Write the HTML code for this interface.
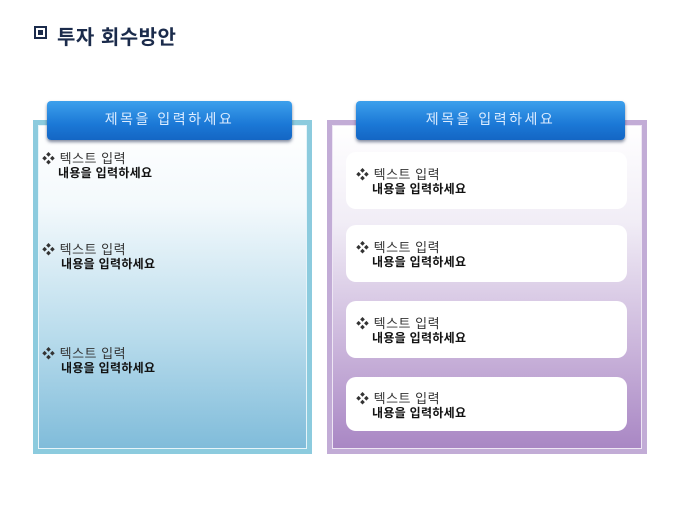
<!DOCTYPE html>
<html><head><meta charset="utf-8"><style>
*{margin:0;padding:0;box-sizing:border-box}
body{width:680px;height:510px;background:#fff;position:relative;overflow:hidden;font-family:"Liberation Sans","Noto Sans CJK KR",sans-serif}
.abs{position:absolute}
.title{left:57px;top:21px;font-size:20px;font-weight:bold;color:#1b2b4b;letter-spacing:0.5px}
.sq{left:34px;top:26px;width:13px;height:13px;border:2px solid #1b2b4b;background:#fff}
.sq::after{content:"";position:absolute;left:2px;top:2px;width:5px;height:5px;background:#1b2b4b}
.lp{left:33px;top:120px;width:279px;height:334px;background:#8ccbde;padding:5px}
.lp .in{width:100%;height:100%;border:1px solid #e6f4f9;background:linear-gradient(#fff 0%,#f3f9fc 25%,#b9dcec 65%,#80bcda 100%)}
.rp{left:327px;top:120px;width:320px;height:334px;background:#c2acd6;padding:5px}
.rp .in{width:100%;height:100%;border:1px solid #eee6f4;background:linear-gradient(#fff 0%,#f1edf6 30%,#c9b3da 70%,#a987c4 100%)}
.hd{height:39px;border-radius:4px;background:linear-gradient(#3da0ec,#1b78d6 60%,#1466c4);box-shadow:0 2px 3px rgba(0,20,60,.5);color:#dcecff;font-size:14px;text-align:center;line-height:37px;letter-spacing:2.5px}
.card{left:346px;width:281px;background:#fff;border-radius:10px}
.t1{font-size:13px;color:#333;letter-spacing:0.5px}
.t2{font-size:12px;font-weight:bold;color:#111;letter-spacing:0.3px}
.item{line-height:15px}
</style></head><body>
<div class="abs sq"></div>
<div class="abs title">투자 회수방안</div>

<div class="abs lp"><div class="in"></div></div>
<div class="abs rp"><div class="in"></div></div>
<div class="abs hd" style="left:47px;top:101px;width:245px">제목을 입력하세요</div>
<div class="abs hd" style="left:356px;top:101px;width:269px">제목을 입력하세요</div>

<div class="abs card" style="top:152px;height:57px"></div>
<div class="abs card" style="top:225px;height:57px"></div>
<div class="abs card" style="top:301px;height:57px"></div>
<div class="abs card" style="top:377px;height:54px"></div>

<div class="abs item" style="left:42px;top:151px"><div class="t1">❖ 텍스트 입력</div><div class="t2" style="padding-left:16px">내용을 입력하세요</div></div>
<div class="abs item" style="left:42px;top:242px"><div class="t1">❖ 텍스트 입력</div><div class="t2" style="padding-left:19px">내용을 입력하세요</div></div>
<div class="abs item" style="left:42px;top:346px"><div class="t1">❖ 텍스트 입력</div><div class="t2" style="padding-left:19px">내용을 입력하세요</div></div>

<div class="abs item" style="left:356px;top:167px"><div class="t1">❖ 텍스트 입력</div><div class="t2" style="padding-left:16px">내용을 입력하세요</div></div>
<div class="abs item" style="left:356px;top:240px"><div class="t1">❖ 텍스트 입력</div><div class="t2" style="padding-left:16px">내용을 입력하세요</div></div>
<div class="abs item" style="left:356px;top:316px"><div class="t1">❖ 텍스트 입력</div><div class="t2" style="padding-left:16px">내용을 입력하세요</div></div>
<div class="abs item" style="left:356px;top:391px"><div class="t1">❖ 텍스트 입력</div><div class="t2" style="padding-left:16px">내용을 입력하세요</div></div>
</body></html>
